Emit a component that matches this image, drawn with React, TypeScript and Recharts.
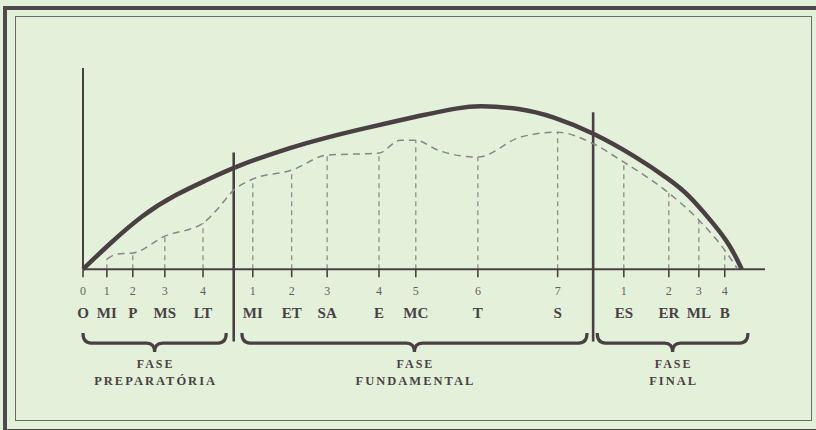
import { ComposedChart, Line, XAxis, YAxis, ReferenceLine } from "recharts";

// positions along the session (0-100) and intensity (0-100)
const mainX = [0, 3.7, 8.7, 13.5, 18.3, 22.3, 30.8, 35.8, 40.6, 50.4, 55.3, 57.8, 64.1, 68.9, 74.6, 81.2, 86.0, 88.6, 92.4, 94.8, 96.6];
const mainY = [0, 12.0, 27.0, 37.0, 44.5, 51.0, 61.0, 65.5, 69.5, 77.1, 80.3, 81.3, 80.1, 75.9, 68.2, 55.7, 44.5, 37.8, 22.9, 12.5, 0];

const dashX = [3.5, 5.0, 7.3, 12.0, 17.6, 19.6, 22.1, 24.9, 30.6, 35.8, 43.4, 46.5, 48.8, 52.0, 57.9, 64.1, 69.6, 74.6, 79.3, 85.9, 90.3, 94.1, 95.9];
const dashY = [5.0, 7.5, 8.0, 16.4, 22.9, 29.4, 39.3, 44.8, 49.2, 56.7, 57.7, 64.1, 64.1, 59.2, 55.7, 65.6, 68.1, 62.7, 53.2, 37.8, 24.4, 9.4, 0.5];

const tickX = [0, 3.5, 7.3, 12.0, 17.6, 24.9, 30.6, 35.8, 43.4, 48.8, 57.9, 69.6, 79.3, 85.9, 90.3, 94.1];
const tickNum = ["0", "1", "2", "3", "4", "1", "2", "3", "4", "5", "6", "7", "1", "2", "3", "4"];
const tickAbbr = ["O", "MI", "P", "MS", "LT", "MI", "ET", "SA", "E", "MC", "T", "S", "ES", "ER", "ML", "B"];
const tickDrop = [0, 5.0, 8.0, 16.4, 22.9, 44.8, 49.2, 56.7, 57.7, 64.1, 55.7, 68.1, 53.2, 37.8, 24.4, 9.4];

const dividerX = [22.1, 74.8];
const dividerTop = [58, 78];
const dividerBottom = -36;

const phaseFrom = [0, 23.3, 75.4];
const phaseTo = [21.0, 73.9, 97.5];
const phaseLine1 = ["FASE", "FASE", "FASE"];
const phaseLine2 = ["PREPARATÓRIA", "FUNDAMENTAL", "FINAL"];
const braceLevel = -31.8;

const mainData = mainX.map((x, i) => ({ x, y: mainY[i] }));
const dashData = dashX.map((x, i) => ({ x, y: dashY[i] }));

const INK = "#4a4044";
const SERIF = "'Liberation Serif', 'DejaVu Serif', serif";

function TickShape(props: any, num: string, abbr: string) {
  const { x1, y1, y2 } = props;
  return (
    <g>
      <line x1={x1} y1={y1} x2={x1} y2={y2} stroke={INK} strokeWidth={1.6} />
      <text x={x1} y={y1 + 26} textAnchor="middle" fontFamily={SERIF} fontSize={12} fill="#655d61">
        {num}
      </text>
      <text x={x1} y={y1 + 49} textAnchor="middle" fontFamily={SERIF} fontSize={15} fontWeight="bold" fill={INK}>
        {abbr}
      </text>
    </g>
  );
}

function BraceShape(props: any, l1: string, l2: string) {
  const { x1, y1, x2 } = props;
  const mid = (x1 + x2) / 2;
  const d = 10;
  const r = 8;
  const path =
    `M${x1},${y1} Q${x1},${y1 + d} ${x1 + r},${y1 + d} L${mid - r},${y1 + d} ` +
    `Q${mid},${y1 + d} ${mid},${y1 + d + 9} Q${mid},${y1 + d} ${mid + r},${y1 + d} ` +
    `L${x2 - r},${y1 + d} Q${x2},${y1 + d} ${x2},${y1}`;
  return (
    <g>
      <path d={path} fill="none" stroke={INK} strokeWidth={3.2} />
      <text x={mid + 1} y={y1 + 35} textAnchor="middle" fontFamily={SERIF} fontSize={12} fontWeight="bold" letterSpacing={2} fill={INK}>
        {l1}
      </text>
      <text x={mid + 1} y={y1 + 52} textAnchor="middle" fontFamily={SERIF} fontSize={12.5} fontWeight="bold" letterSpacing={2} fill={INK}>
        {l2}
      </text>
    </g>
  );
}

export default function App() {
  return (
    <div style={{ position: "absolute", left: 0, top: 0, width: 816, height: 430, background: "#e4f1da", overflow: "hidden" }}>
      <div style={{ position: "absolute", left: 3, top: 6, width: 840, height: 419, border: "4px solid #514a4c" }} />
      <div style={{ position: "absolute", left: 15, top: 16, width: 795, height: 403, border: "1.5px solid #6d6769" }} />
      <div style={{ position: "absolute", left: 0, top: 0 }}>
        <ComposedChart width={816} height={430} margin={{ top: 68, right: 51, bottom: 10, left: 83 }}>
          <XAxis type="number" dataKey="x" domain={[0, 100]} hide />
          <YAxis type="number" domain={[-75, 100]} hide />

          {tickX.slice(1).map((x, i) => (
            <ReferenceLine
              key={`drop-${i}`}
              segment={[{ x, y: 0 }, { x, y: tickDrop[i + 1] }]}
              stroke="#8a8487"
              strokeWidth={1.2}
              strokeDasharray="5 4"
            />
          ))}

          <ReferenceLine segment={[{ x: 0, y: 0 }, { x: 0, y: 100 }]} stroke={INK} strokeWidth={2} />
          <ReferenceLine segment={[{ x: 0, y: 0 }, { x: 100, y: 0 }]} stroke={INK} strokeWidth={2} />

          {tickX.map((x, i) => (
            <ReferenceLine
              key={`tick-${i}`}
              segment={[{ x, y: 0 }, { x, y: -4 }]}
              shape={(p: any) => TickShape(p, tickNum[i], tickAbbr[i])}
            />
          ))}

          {dividerX.map((x, i) => (
            <ReferenceLine
              key={`div-${i}`}
              segment={[{ x, y: dividerTop[i] }, { x, y: dividerBottom }]}
              stroke={INK}
              strokeWidth={2.6}
            />
          ))}

          {phaseFrom.map((from, i) => (
            <ReferenceLine
              key={`phase-${i}`}
              segment={[{ x: from, y: braceLevel }, { x: phaseTo[i], y: braceLevel }]}
              shape={(p: any) => BraceShape(p, phaseLine1[i], phaseLine2[i])}
            />
          ))}

          <Line
            data={dashData}
            dataKey="y"
            type="monotone"
            stroke="#8a8487"
            strokeWidth={1.5}
            strokeDasharray="7 5"
            dot={false}
            activeDot={false}
            isAnimationActive={false}
          />
          <Line
            data={mainData}
            dataKey="y"
            type="basis"
            stroke={INK}
            strokeWidth={4.5}
            dot={false}
            activeDot={false}
            isAnimationActive={false}
          />
        </ComposedChart>
      </div>
    </div>
  );
}
